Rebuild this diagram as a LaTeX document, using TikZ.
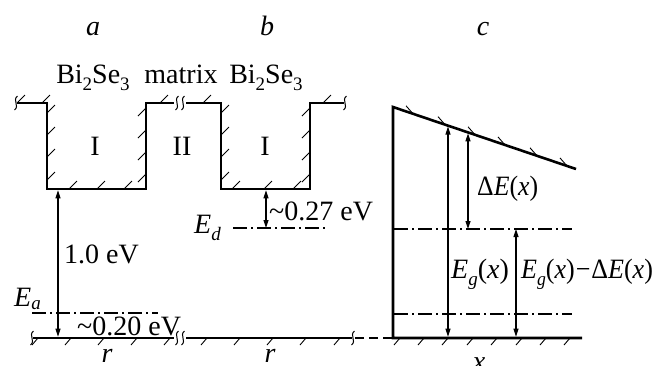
\documentclass[tikz,border=0pt]{standalone}
\usepackage{fontspec}
\setmainfont{Liberation Serif}
\usetikzlibrary{arrows.meta}
\newcommand\subs[1]{\raisebox{-0.25em}{\fontsize{19}{19}\selectfont #1}}
\newcommand\subsh[1]{\raisebox{-0.12em}{\fontsize{19}{19}\selectfont #1}}
\begin{document}
\begin{tikzpicture}[x=1pt,y=-1pt,
  thickline/.style={line width=2.6pt},
  tk/.style={line width=0.9pt},
  dimarrow/.style={line width=1.1pt,{Triangle[length=8pt,width=5pt]}-{Triangle[length=8pt,width=5pt]}},
  dashdot/.style={line width=1.1pt,dash pattern=on 14pt off 4pt on 2pt off 4pt},
  lbl/.style={inner sep=0pt,font=\fontsize{28}{32}\selectfont},
  brk/.pic={\draw[line width=1pt] (1.5,-7) .. controls (-4,-3) and (4,3) .. (-1.5,7);}
]
\useasboundingbox (0,0) rectangle (666,365);

% ---------- panel a / b : wells ----------
\draw[thickline,line join=miter] (17,103) -- (47,103) -- (47,189) -- (146,189) -- (146,103) -- (174,103);
\draw[thickline,line join=miter] (186,103) -- (221,103) -- (221,189) -- (310,189) -- (310,103) -- (344,103);
\pic at (16,103) {brk};
\pic at (177,103) {brk};
\pic at (183,103) {brk};
\pic at (345,103) {brk};
% top ticks
\foreach \x in {17,42,160,203,323} \draw[tk] (\x,103) -- ++(8,-8);
% wall ticks
\foreach \y in {113,135,157,180} {
  \draw[tk] (47,\y) -- ++(8,-8);
  \draw[tk] (221,\y) -- ++(8,-8);
}
\foreach \y in {108,130,152,174} {
  \draw[tk] (146,\y) -- ++(-8,8);
  \draw[tk] (310,\y) -- ++(-8,8);
}
% bottom ticks of wells
\foreach \x in {69,97,124,232,264,293} \draw[tk] (\x,189) -- ++(8,-8);

% bottom line a/b
\draw[thickline] (33,338) -- (174,338);
\draw[thickline] (186,338) -- (352,338);
\pic at (32,338) {brk};
\pic at (177,338) {brk};
\pic at (183,338) {brk};
\pic at (353,338) {brk};
\coordinate (dashL) at (355,338);
\coordinate (cBL) at (393,338);
\draw[line width=1.1pt,dash pattern=on 9pt off 5pt] (dashL) -- (cBL);
\foreach \x in {38,71,104,137,170,207,240,273,306,340} \draw[tk] (\x,338) -- ++(-6,7);

% levels
\coordinate (EaL) at (32,313); \coordinate (EaR) at (158,313);
\draw[dashdot] (EaL) -- (EaR);
\coordinate (EdL) at (233,228); \coordinate (EdR) at (327,228);
\draw[dashdot] (EdL) -- (EdR);

% arrows a, b
\coordinate (aTop) at (58,190.3); \coordinate (aBot) at (58,336.7);
\draw[dimarrow] (aTop) -- (aBot);
\coordinate (bTop) at (266,190.3); \coordinate (bBot) at (266,228);
\draw[dimarrow] (bTop) -- (bBot);

% ---------- panel c ----------
\coordinate (cTL) at (393,107);
\coordinate (cTR) at (576,169);
\coordinate (cBR) at (582,338);
\draw[thickline,line join=miter] (cTR) -- (cTL) -- (cBL) -- (cBR);
\foreach \x in {413,445,475,505,537,567}
  \draw[tk] (\x-7,{107+(\x-393)*0.3388-8}) -- (\x,{107+(\x-393)*0.3388});
\foreach \x in {400,424,448,473,497,522,546,570} \draw[tk] (\x,338) -- ++(-6,7);
\coordinate (u1L) at (394,229); \coordinate (u1R) at (572,229);
\draw[dashdot] (u1L) -- (u1R);
\coordinate (u2L) at (394,314); \coordinate (u2R) at (572,314);
\draw[dashdot] (u2L) -- (u2R);
\coordinate (g1T) at (448,126.5); \coordinate (g1B) at (448,336.7);
\draw[dimarrow] (g1T) -- (g1B);
\coordinate (g2T) at (468,133.4); \coordinate (g2B) at (468,229);
\draw[dimarrow] (g2T) -- (g2B);
\coordinate (g3T) at (516,229); \coordinate (g3B) at (516,336.7);
\draw[dimarrow] (g3T) -- (g3B);

% ---------- labels ----------
\node[lbl,anchor=base] (la) at (93,35) {\textit{a}};
\node[lbl,anchor=base] (lb) at (267,35) {\textit{b}};
\node[lbl,anchor=base] (lc) at (483,35) {\textit{c}};
\node[lbl,anchor=base] (bs1) at (93,83) {Bi\subs{2}Se\subs{3}};
\node[lbl,anchor=base] (mx) at (181,83) {matrix};
\node[lbl,anchor=base] (bs2) at (266,83) {Bi\subs{2}Se\subs{3}};
\node[lbl,anchor=base] (r1) at (95,155) {I};
\node[lbl,anchor=base] (r2) at (182,155) {II};
\node[lbl,anchor=base] (r3) at (265,155) {I};
\node[lbl,anchor=base west] (e10) at (64,263) {1.0 eV};
\node[lbl,anchor=base west] (e27) at (269,220) {\textasciitilde0.27 eV};
\node[lbl,anchor=base west] (e20) at (77,335) {\textasciitilde0.20 eV};
\node[lbl,anchor=base west] (Ea) at (14,306) {\textit{E}\subsh{\textit{a}}};
\node[lbl,anchor=base west] (Ed) at (194,233) {\textit{E}\subs{\textit{d}}};
\node[lbl,anchor=base west] (dE) at (477,195) {\scalebox{0.92}[1]{Δ\textit{E}(\textit{x})}};
\node[lbl,anchor=base west] (Eg) at (451,278) {\textit{E}\subs{\textit{g}}(\textit{x})};
\node[lbl,anchor=base west] (EgdE) at (521,278) {\scalebox{0.93}[1]{\textit{E}\subs{\textit{g}}(\textit{x})\hspace{1pt}−\hspace{1pt}Δ\textit{E}(\textit{x})}};
\node[lbl,anchor=base] (xr1) at (107,362) {\textit{r}};
\node[lbl,anchor=base] (xr2) at (270,362) {\textit{r}};
\node[lbl,anchor=base] (xx) at (479,370) {\textit{x}};
\end{tikzpicture}
\end{document}
